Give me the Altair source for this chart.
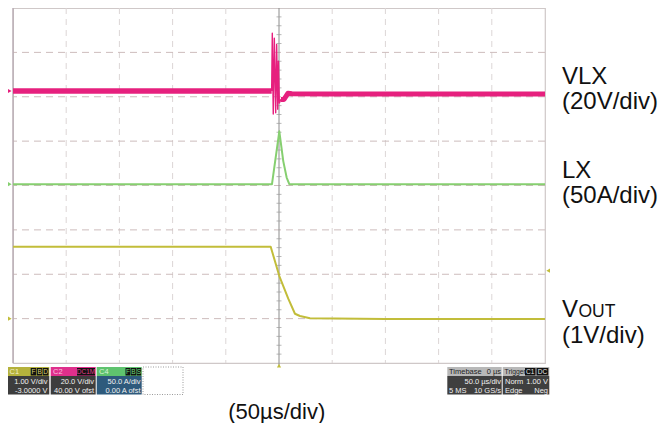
import altair as alt
import pandas as pd

# ---------------- data (time in µs, 50 µs/div; vertical in screen divisions) ----------------
vlx_pre_t = [-250, -150, -50, -6.9]
vlx_pre_v = [2.13, 2.13, 2.13, 2.13]
vlx_spike_t = [-6.9, -6.3, -5.4, -4.4, -3.1, -2.2, -1.2, -0.5, 0.3, 1.9, 4.7, 8.5, 12.2]
vlx_spike_v = [2.13, 3.43, 1.61, 3.32, 1.64, 3.18, 1.72, 2.80, 1.86, 1.94, 1.94, 2.08, 2.07]
vlx_post_t = [1.9, 4.7, 8.5, 12.2, 50, 150, 250]
vlx_post_v = [1.94, 1.94, 2.08, 2.07, 2.06, 2.06, 2.06]

lx_t = [-250, -6.6, 0.3, 4.0, 7.2, 9.7, 250]
lx_v = [0.03, 0.03, 1.22, 0.55, 0.18, 0.03, 0.03]

vout_t = [-250, -7.8, 0.3, 8.7, 15.0, 19.7, 29.1, 100, 250]
vout_v = [-1.38, -1.38, -2.04, -2.55, -2.89, -2.94, -2.99, -3.01, -3.01]

x_grid = [-200, -150, -100, -50, 50, 100, 150, 200]
y_grid = [-3, -2, -1, 0, 1, 2, 3]
center_ticks = [i / 5 for i in range(-19, 20) if i % 5 != 0]

series_labels = ["VLX", "(20V/div)", "LX", "(50A/div)", "(1V/div)"]
time_label = "(50µs/div)"

# ---------------- layout ----------------
W, H = 532, 355
PINK, GREEN, YELLOW = "#e6207e", "#86cf70", "#c2bd3a"
FONT = "Liberation Sans"

xs = alt.Scale(domain=[-250, 250], nice=False, zero=False)
ys = alt.Scale(domain=[-4, 4], nice=False, zero=False)


def line(t, v, color, width):
    df = pd.DataFrame({"t": t, "v": v, "i": list(range(len(t)))})
    return alt.Chart(df).mark_line(color=color, strokeWidth=width, strokeJoin="round").encode(
        x=alt.X("t:Q", scale=xs, axis=None),
        y=alt.Y("v:Q", scale=ys, axis=None),
        order="i:Q",
    )


vgrid = alt.Chart(pd.DataFrame({"t": x_grid})).mark_rule(
    color="#dcd6d6", strokeDash=[6, 5], strokeWidth=1
).encode(x=alt.X("t:Q", scale=xs, axis=None))
hgrid = alt.Chart(pd.DataFrame({"v": y_grid})).mark_rule(
    color="#cdbcbc", strokeDash=[7, 5], strokeWidth=1
).encode(y=alt.Y("v:Q", scale=ys, axis=None))
center = alt.Chart(pd.DataFrame({"t": [0]})).mark_rule(color="#8c8c8c", strokeWidth=1).encode(
    x=alt.X("t:Q", scale=xs, axis=None), y=alt.value(0), y2=alt.value(H + 3)
)
cticks = alt.Chart(pd.DataFrame({"v": center_ticks, "t": [0] * len(center_ticks)})).mark_tick(
    orient="horizontal", size=5, thickness=1, color="#9a9a9a"
).encode(x=alt.X("t:Q", scale=xs, axis=None), y=alt.Y("v:Q", scale=ys, axis=None))
leftedge = alt.Chart(pd.DataFrame({"t": [-250]})).mark_rule(color="#b2a4ae", strokeWidth=1.2).encode(
    x=alt.X("t:Q", scale=xs, axis=None)
)

markers = alt.Chart(pd.DataFrame({
    "t": [-253, -253, -253, 253, 0],
    "v": [2.13, 0.03, -3.0, -1.92, -4.06],
    "shape": ["triangle-right", "triangle-right", "triangle-right", "triangle-left", "triangle-up"],
    "c": [PINK, GREEN, YELLOW, YELLOW, YELLOW],
})).mark_point(filled=True, size=18, opacity=1).encode(
    x=alt.X("t:Q", scale=xs, axis=None),
    y=alt.Y("v:Q", scale=ys, axis=None),
    shape=alt.Shape("shape:N", scale=None),
    color=alt.Color("c:N", scale=None),
)

# status bar (pixel positions relative to the plot area)
OX, OY = 13, 8
rects = [
    (7.3, 49.3, 367, 376, "#b5b23c"), (7.3, 49.3, 376, 394.5, "#3d3d3d"),
    (50.7, 95.7, 367, 376, "#df2f8c"), (50.7, 95.7, 376, 394.5, "#3d3d3d"),
    (96.7, 141.7, 367, 376, "#5fc36e"), (96.7, 141.7, 376, 394.5, "#2e5a7c"),
    (30.7, 36.3, 368, 375.5, "#111111"), (36.9, 42.4, 368, 375.5, "#111111"), (43, 48.5, 368, 375.5, "#111111"),
    (77, 95, 368, 375.5, "#111111"),
    (125.5, 130.5, 368, 375.5, "#111111"), (131, 136, 368, 375.5, "#111111"), (136.5, 141.2, 368, 375.5, "#111111"),
    (447.3, 501.7, 367, 376, "#b8b8b8"), (502.7, 549.3, 367, 376, "#b8b8b8"),
    (447.3, 501.7, 376, 394.5, "#3f3f3f"), (502.7, 549.3, 376, 394.5, "#3f3f3f"),
    (525, 535.5, 368, 375.5, "#111111"), (536.5, 548.3, 368, 375.5, "#111111"),
]
rdf = pd.DataFrame([
    {"x": a - OX, "x2": b - OX, "y": c - OY, "y2": d - OY, "c": col} for a, b, c, d, col in rects
])
rect_layer = alt.Chart(rdf).mark_rect().encode(
    x=alt.X("x:Q", scale=None, axis=None), x2="x2", y=alt.Y("y:Q", scale=None, axis=None), y2="y2",
    color=alt.Color("c:N", scale=None),
)
dotted = alt.Chart(pd.DataFrame({"x": [143 - OX], "x2": [183 - OX], "y": [367 - OY], "y2": [394.5 - OY]})).mark_rect(
    fill="white", stroke="#9a9a9a", strokeDash=[1, 1.5], strokeWidth=1
).encode(x=alt.X("x:Q", scale=None, axis=None), x2="x2", y=alt.Y("y:Q", scale=None, axis=None), y2="y2")

small_texts = [
    # text, x, y, align, color, size
    ("C1", 9.5, 372, "left", "#f2f0cc", 7.5),
    ("F", 33.5, 372, "center", "#d8d070", 6.5), ("B", 39.6, 372, "center", "#d8d070", 6.5), ("D", 45.7, 372, "center", "#d8d070", 6.5),
    ("C2", 53, 372, "left", "#f7c4df", 7.5),
    ("DC1M", 86, 372, "center", "#e0408e", 6.5),
    ("C4", 99, 372, "left", "#d8f4d8", 7.5),
    ("F", 128, 372, "center", "#6fdc7a", 6.5), ("B", 133.5, 372, "center", "#6fdc7a", 6.5), ("S", 138.8, 372, "center", "#6fdc7a", 6.5),
    ("1.00 V/div", 47.5, 381.5, "right", "#f0f0f0", 7.5), ("-3.0000 V", 47.5, 390.5, "right", "#f0f0f0", 7.5),
    ("20.0 V/div", 94, 381.5, "right", "#f0f0f0", 7.5), ("40.00 V ofst", 94, 390.5, "right", "#f0f0f0", 7.5),
    ("50.0 A/div", 140.5, 381.5, "right", "#f0f0f0", 7.5), ("0.00 A ofst", 140.5, 390.5, "right", "#f0f0f0", 7.5),
    ("Timebase", 449, 372, "left", "#1e1e1e", 7.5), ("0 µs", 501, 372, "right", "#1e1e1e", 7.5),
    ("Trigger", 504.5, 372, "left", "#1e1e1e", 6.8),
    ("C1", 530.2, 372, "center", "#e8e8e8", 6.5), ("DC", 542.4, 372, "center", "#e8e8e8", 6.5),
    ("50.0 µs/div", 501, 381.5, "right", "#f0f0f0", 7.5),
    ("5 MS", 449, 390.5, "left", "#f0f0f0", 7.5), ("10 GS/s", 501, 390.5, "right", "#f0f0f0", 7.5),
    ("Norm", 505, 381.5, "left", "#f0f0f0", 7.5), ("1.00 V", 548, 381.5, "right", "#f0f0f0", 7.5),
    ("Edge", 505, 390.5, "left", "#f0f0f0", 7.5), ("Neg", 548, 390.5, "right", "#f0f0f0", 7.5),
]


def text_layer(rows, align, baseline, font=FONT):
    df = pd.DataFrame([
        {"txt": t, "x": x - OX, "y": y - OY, "c": c, "s": s} for t, x, y, a, c, s in rows if a == align
    ])
    return alt.Chart(df).mark_text(align=align, baseline=baseline, font=font).encode(
        x=alt.X("x:Q", scale=None, axis=None),
        y=alt.Y("y:Q", scale=None, axis=None),
        text="txt:N",
        color=alt.Color("c:N", scale=None),
        size=alt.Size("s:Q", scale=None),
    )


big_texts = [
    (series_labels[0], 562, 83.5, "left", "#111111", 24),
    (series_labels[1], 562, 109, "left", "#111111", 24),
    (series_labels[2], 562, 178, "left", "#111111", 24),
    (series_labels[3], 562, 203, "left", "#111111", 24),
    ("V", 562, 317, "left", "#111111", 24),
    ("OUT", 578.5, 317, "left", "#111111", 17.5),
    (series_labels[4], 562, 343, "left", "#111111", 24),
    (time_label, 276.7, 419, "center", "#111111", 22),
]

layers = [
    vgrid, hgrid, leftedge, center, cticks,
    line(vlx_pre_t, vlx_pre_v, PINK, 5.5),
    line(vlx_post_t, vlx_post_v, PINK, 5),
    line(vlx_spike_t, vlx_spike_v, PINK, 1.4),
    line(lx_t, lx_v, GREEN, 2),
    line(vout_t, vout_v, YELLOW, 2),
    markers,
    rect_layer, dotted,
    text_layer(small_texts, "left", "middle"),
    text_layer(small_texts, "right", "middle"),
    text_layer(small_texts, "center", "middle"),
    text_layer(big_texts, "left", "alphabetic"),
    text_layer(big_texts, "center", "alphabetic"),
]

chart = alt.layer(*layers).resolve_scale(
    x="independent", y="independent", color="independent", size="independent", shape="independent"
).properties(
    width=W, height=H,
    autosize=alt.AutoSizeParams(type="none"),
    padding={"left": 5, "top": 0, "right": 115, "bottom": 60},
    background="white",
).configure_view(stroke="#cfc8c8", strokeWidth=1.2)

chart.save("out.html", embed_options={"renderer": "svg", "actions": False})
